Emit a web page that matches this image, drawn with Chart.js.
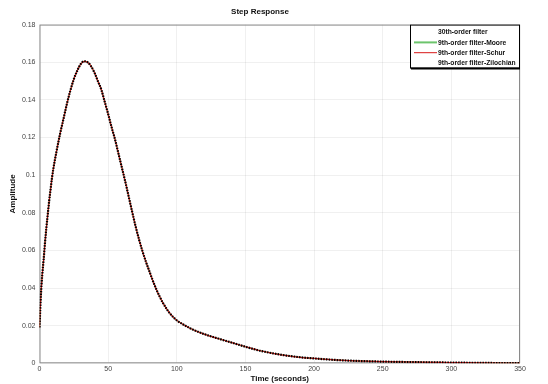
<!DOCTYPE html>
<html>
<head>
<meta charset="utf-8">
<script src="https://cdn.jsdelivr.net/npm/chart.js@4.4.0/dist/chart.umd.min.js"></script>
<style>
  html, body { margin: 0; padding: 0; background: #fff; }
  #wrap { width: 548px; height: 384px; }
</style>
</head>
<body>
<div id="wrap"><canvas id="stepChart" width="548" height="384"></canvas></div>
<script>
// Step response samples
const timeSec = [0, 0.5, 1, 1.5, 2, 3, 4, 5, 6, 7, 8, 9, 10, 12.5, 15, 17.5, 20, 22.5, 25, 27.5, 30, 32.5,
    35, 37.5, 40, 42.5, 45, 47.5, 50, 52.5, 55, 57.5, 60, 62.5, 65, 67.5, 70, 72.5, 75, 77.5, 80, 82.5,
    85, 87.5, 90, 95, 100, 105, 110, 120, 130, 140, 150, 160, 170, 180, 190, 200, 215, 230, 250, 275,
    300, 325, 350];
const stepAmp = [0.019, 0.028, 0.036, 0.042, 0.047, 0.055, 0.064, 0.072, 0.079, 0.086, 0.092, 0.098, 0.103,
    0.113, 0.122, 0.130, 0.138, 0.145, 0.151, 0.1555, 0.159, 0.1605,
    0.160, 0.158, 0.1545, 0.150, 0.1455, 0.139, 0.1325, 0.1255, 0.119, 0.1115, 0.104, 0.0965, 0.0885,
    0.0805, 0.0728, 0.0658, 0.0596, 0.054, 0.049, 0.044, 0.0395, 0.0355, 0.032, 0.0265, 0.0228, 0.0205,
    0.0185, 0.0155, 0.0132, 0.011, 0.0088, 0.0068, 0.0053, 0.0041, 0.0032, 0.0026, 0.0018, 0.0013,
    0.0009, 0.0006, 0.0004, 0.0002, 0.0001];

const seriesNames = ['30th-order filter', '9th-order filter-Moore', '9th-order filter-Schur', '9th-order filter-Zilochian'];
const seriesColors = ['#f2f2f2', '#6cc46c', '#d81818', '#000000'];
const seriesDash = [[], [], [], [1.5, 1.2]];
const seriesWidth = [1, 1, 1.2, 2.2];
const seriesOrder = [4, 3, 2, 1]; // lower order is drawn on top

const xTicks = [0, 50, 100, 150, 200, 250, 300, 350];

const FONT = '"Liberation Sans", Arial, sans-serif';

function toPoints(xs, ys) {
    return xs.map((x, i) => ({ x: x, y: ys[i] }));
}

// Legend box in the top right corner of the axes, MATLAB style
const boxLegend = {
    id: 'boxLegend',
    afterDraw(chart) {
        const ctx = chart.ctx;
        const area = chart.chartArea;
        const w = 110, h = 44;
        const x0 = area.right - w, y0 = area.top;
        ctx.save();
        ctx.fillStyle = '#fff';
        ctx.fillRect(x0, y0, w, h);
        ctx.strokeStyle = '#000';
        ctx.lineWidth = 1;
        ctx.strokeRect(x0 + 0.5, y0 + 0.5, w - 1, h - 1);
        ctx.lineWidth = 2;
        ctx.beginPath();
        ctx.moveTo(x0 + 1, y0 + h);
        ctx.lineTo(x0 + w, y0 + h);
        ctx.stroke();
        ctx.font = 'bold 8px ' + FONT;
        ctx.textBaseline = 'middle';
        chart.data.datasets.forEach((ds, i) => {
            const yy = y0 + 7.5 + i * 10.3;
            if (i === 1 || i === 2) {
                ctx.strokeStyle = ds.borderColor;
                ctx.lineWidth = i === 1 ? 2 : 1;
                ctx.beginPath();
                ctx.moveTo(x0 + 4, yy);
                ctx.lineTo(x0 + 27, yy);
                ctx.stroke();
            }
            ctx.fillStyle = '#111';
            // squeeze the text a little, the original uses a narrow face
            const tw = ctx.measureText(ds.label).width;
            ctx.fillText(ds.label, x0 + 28, yy, tw * 0.84);
        });
        ctx.restore();
    }
};

// Axes frame drawn over grid
const axesFrame = {
    id: 'axesFrame',
    beforeDatasetsDraw(chart) {
        const ctx = chart.ctx;
        const a = chart.chartArea;
        ctx.save();
        ctx.strokeStyle = '#8a8a8a';
        ctx.lineWidth = 1;
        ctx.strokeRect(a.left + 0.5, a.top + 0.5, a.right - a.left - 1, a.bottom - a.top - 1);
        ctx.restore();
    }
};

const datasets = seriesNames.map((name, i) => ({
    label: name,
    data: toPoints(timeSec, stepAmp),
    borderColor: seriesColors[i],
    backgroundColor: seriesColors[i],
    borderWidth: seriesWidth[i],
    borderDash: seriesDash[i],
    order: seriesOrder[i],
    pointRadius: 0,
    cubicInterpolationMode: 'monotone',
    fill: false
}));

const gridStyle = {
    color: 'rgba(0,0,0,0.06)',
    lineWidth: 1,
    drawTicks: false
};

new Chart(document.getElementById('stepChart'), {
    type: 'line',
    data: { datasets: datasets },
    options: {
        responsive: false,
        animation: false,
        layout: { padding: { top: 0, right: 28, left: 0, bottom: 0 } },
        plugins: {
            legend: { display: false },
            tooltip: { enabled: false },
            title: {
                display: true,
                text: 'Step Response',
                color: '#111',
                font: { family: FONT, size: 8, weight: 'bold' },
                padding: { top: 7, bottom: 8 }
            }
        },
        scales: {
            x: {
                type: 'linear',
                min: 0,
                max: 350,
                afterBuildTicks: (scale) => { scale.ticks = xTicks.map(v => ({ value: v })); },
                afterFit: (scale) => { scale.height = 20.7; },
                border: { display: false },
                grid: gridStyle,
                ticks: { color: '#444', font: { family: FONT, size: 7 }, padding: 2, maxRotation: 0 },
                title: {
                    display: true,
                    text: 'Time (seconds)',
                    color: '#111',
                    font: { family: FONT, size: 8, weight: 'bold' },
                    padding: 0
                }
            },
            y: {
                min: 0,
                max: 0.18,
                afterFit: (scale) => { scale.width = 39.5; },
                border: { display: false },
                grid: gridStyle,
                ticks: {
                    stepSize: 0.02,
                    color: '#444',
                    font: { family: FONT, size: 7 },
                    padding: 4,
                    callback: (v) => String(Number(v.toFixed(2)))
                },
                title: {
                    display: true,
                    text: 'Amplitude',
                    color: '#111',
                    font: { family: FONT, size: 8, weight: 'bold' },
                    padding: { top: 8, bottom: 0 }
                }
            }
        }
    },
    plugins: [axesFrame, boxLegend]
});
</script>
</body>
</html>
